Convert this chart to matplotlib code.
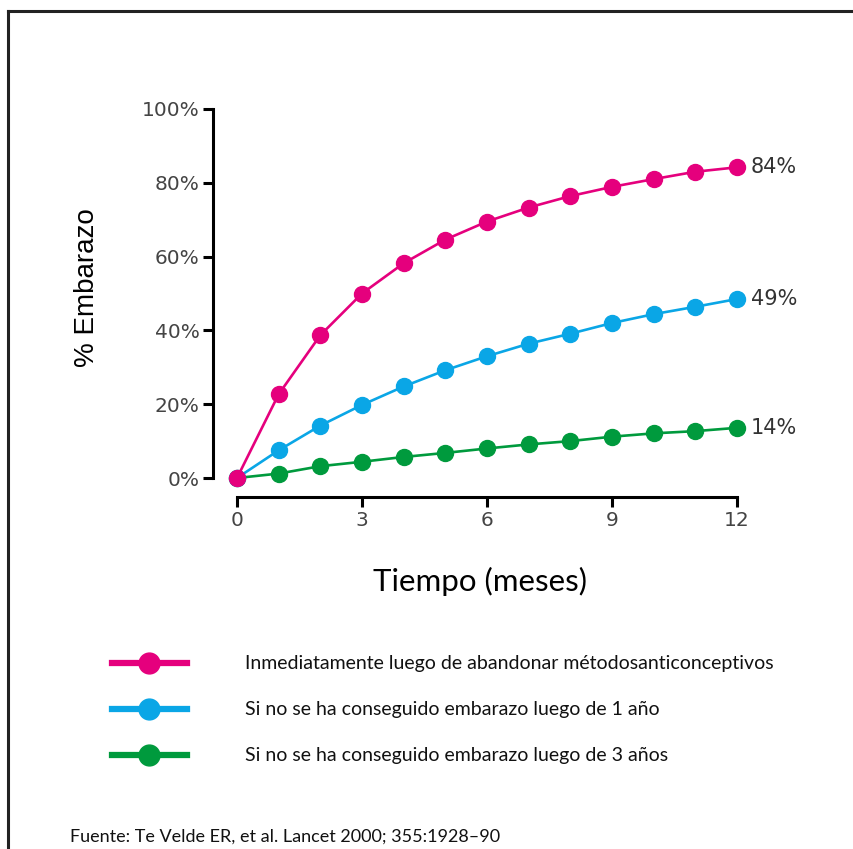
import numpy as np
import matplotlib
matplotlib.use('Agg')
import matplotlib.pyplot as plt
from matplotlib.lines import Line2D

# --- Data ---
months = np.arange(0, 13)
inmediato = [0, 22.7, 38.7, 50.0, 58.2, 64.6, 69.5, 73.3, 76.4, 78.9, 81.0, 83.0, 84.2]
un_anio = [0, 7.5, 14.2, 19.8, 24.8, 29.2, 33.0, 36.4, 39.1, 42.0, 44.4, 46.4, 48.5]
tres_anios = [0, 1.2, 3.2, 4.4, 5.7, 6.8, 8.0, 9.1, 10.0, 11.2, 12.1, 12.7, 13.6]
end_labels = ['84%', '49%', '14%']
series_names = ['Inmediatamente luego de abandonar métodosanticonceptivos',
                'Si no se ha conseguido embarazo luego de 1 año',
                'Si no se ha conseguido embarazo luego de 3 años']
colors = ['#E5007D', '#0AA6E6', '#009A3D']
x_ticks = [0, 3, 6, 9, 12]
y_ticks = [0, 20, 40, 60, 80, 100]

W, H = 854, 849
fig = plt.figure(figsize=(W / 100, H / 100), dpi=100)
fig.patch.set_facecolor('white')

# axes placed so 0..12 spans px 237..737 and 0..100% spans px 478..109
ax = fig.add_axes([237 / W, (H - 478) / H, 500 / W, 369 / H])
ax.set_xlim(0, 12)
ax.set_ylim(0, 100)

all_series = [inmediato, un_anio, tres_anios]
# draw bottom series first so pink sits on top at the origin
for vals, col in list(zip(all_series, colors))[::-1]:
    ax.plot(months, vals, '-o', color=col, lw=1.9, ms=11.5, clip_on=False, zorder=3)

for vals, col, lab in zip(all_series, colors, end_labels):
    ax.annotate(lab, (months[-1], vals[-1]), xytext=(10, 0), textcoords='offset points',
                va='center', ha='left', fontsize=15, color='#333333',
                family='DejaVu Sans', annotation_clip=False)

# prism-like offset axes
for s in ['top', 'right']:
    ax.spines[s].set_visible(False)
ax.spines['left'].set_position(('outward', 17))
ax.spines['bottom'].set_position(('outward', 14))
ax.spines['left'].set_bounds(0, 100)
ax.spines['bottom'].set_bounds(0, 12)
for s in ['left', 'bottom']:
    ax.spines[s].set_linewidth(2.2)
ax.set_xticks(x_ticks)
ax.set_yticks(y_ticks)
ax.set_yticklabels([f'{v}%' for v in y_ticks])
ax.tick_params(axis='both', direction='out', length=7, width=2.2,
               labelsize=14.5, labelcolor='#444444', pad=3)

ax.set_ylabel('% Embarazo', fontsize=20, family='Liberation Sans', color='black')
ax.yaxis.set_label_coords(-0.274, 0.515)
ax.set_xlabel('Tiempo (meses)', fontsize=22.5, family='Lato', color='black')
ax.xaxis.set_label_coords(0.486, -0.24)

# --- manual legend below the chart ---
legend_rows = [663, 709, 755]
for y, col, name in zip(legend_rows, colors, series_names):
    yf = (H - y) / H
    fig.add_artist(Line2D([112 / W, 187 / W], [yf, yf], color=col, lw=4.5,
                          transform=fig.transFigure))
    fig.add_artist(Line2D([149 / W], [yf], marker='o', ms=15, color=col,
                          transform=fig.transFigure))
    fig.text(245 / W, yf, name, fontsize=14, family='Lato', va='center',
             ha='left', color='#111111')

fig.text(70 / W, (H - 837) / H, 'Fuente: Te Velde ER, et al. Lancet 2000; 355:1928–90',
         fontsize=13, family='Lato', va='center', ha='left', color='#111111')

# page border (top and left edges only)
fig.add_artist(Line2D([8 / W, 1], [(H - 11) / H] * 2, color='#222222', lw=2.2,
                      transform=fig.transFigure))
fig.add_artist(Line2D([8 / W] * 2, [0, (H - 11) / H], color='#222222', lw=2.2,
                      transform=fig.transFigure))

fig.savefig('out.png', dpi=100, facecolor='white')
